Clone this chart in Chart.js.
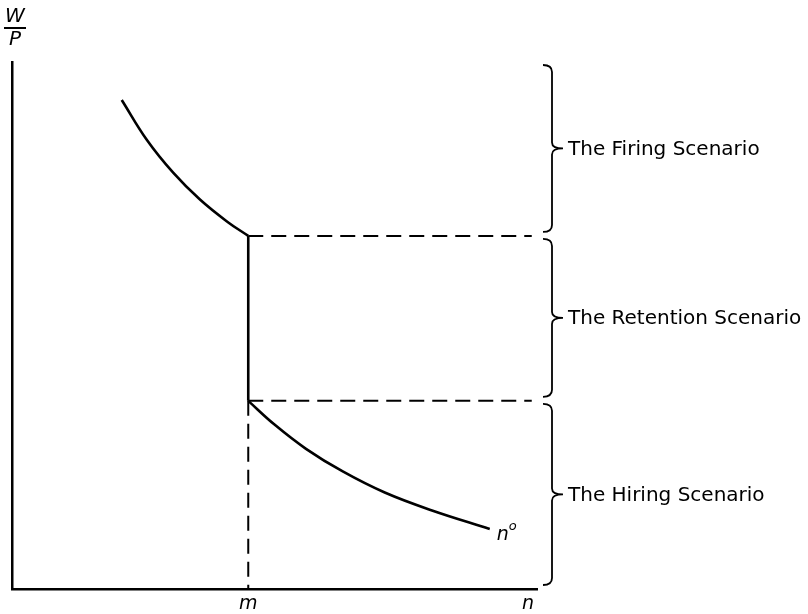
<!DOCTYPE html>
<html>
<head>
<meta charset="utf-8">
<script src="https://cdn.jsdelivr.net/npm/chart.js@4.4.1/dist/chart.umd.min.js"></script>
<style>
  html, body { margin: 0; padding: 0; background: #fff; }
</style>
</head>
<body>
<canvas id="chart" width="808" height="614"></canvas>
<script>
// upper branch of the curve (above the retention band)
const upperX = [20.9, 25.7, 30.7, 35.8, 41.0, 45];
const upperY = [92.8, 85.2, 79.0, 73.9, 69.7, 67.0];
// lower branch n0 (below the retention band)
const lowerX = [45, 50, 56, 63, 71, 80, 91];
const lowerY = [35.7, 31.2, 26.6, 22.3, 18.3, 14.9, 11.4];

const mValue = 45;
const dashEnd = 99;
const bandEdges = [100, 67.0, 35.7, 0];
const bandLabels = ['The Firing Scenario', 'The Retention Scenario', 'The Hiring Scenario'];
const xTicks = [45, 98.3];
const xTickLabels = ['m', 'n'];

const ink = '#000';
const toPoints = (xs, ys) => xs.map((x, i) => ({ x: x, y: ys[i] }));

// braces, scenario labels, n0 and W/P
const notes = {
  id: 'notes',
  afterDraw(chart) {
    const ctx = chart.ctx;
    const xs = chart.scales.x;
    const ys = chart.scales.y;
    const area = chart.chartArea;
    const hookX = area.right + 6;
    const barX = area.right + 15;
    const tipX = area.right + 26;

    ctx.save();
    ctx.strokeStyle = ink;
    ctx.fillStyle = ink;
    ctx.lineWidth = 1.8;
    for (let i = 0; i < bandLabels.length; i++) {
      const top = ys.getPixelForValue(bandEdges[i]) + 3;
      const bot = ys.getPixelForValue(bandEdges[i + 1]) - 4;
      const mid = (top + bot) / 2;
      ctx.beginPath();
      ctx.moveTo(hookX, top);
      ctx.quadraticCurveTo(barX, top, barX, top + 7);
      ctx.lineTo(barX, mid - 6);
      ctx.quadraticCurveTo(barX, mid, tipX, mid);
      ctx.quadraticCurveTo(barX, mid, barX, mid + 6);
      ctx.lineTo(barX, bot - 7);
      ctx.quadraticCurveTo(barX, bot, hookX, bot);
      ctx.stroke();

      ctx.font = '20px "DejaVu Sans"';
      ctx.textAlign = 'left';
      ctx.textBaseline = 'middle';
      ctx.fillText(bandLabels[i], tipX + 5, mid + 1);
    }

    // n0 label at the end of the lower curve
    const nx = xs.getPixelForValue(lowerX[lowerX.length - 1]) + 7;
    const ny = ys.getPixelForValue(lowerY[lowerY.length - 1]);
    ctx.font = 'italic 19px "DejaVu Sans"';
    ctx.textBaseline = 'middle';
    ctx.fillText('n', nx, ny + 6);
    ctx.font = 'italic 13px "DejaVu Sans"';
    ctx.fillText('o', nx + 12, ny - 2);

    // W/P on top of the vertical axis
    const ax = area.left + 3;
    ctx.font = 'italic 20px "DejaVu Sans"';
    ctx.textAlign = 'center';
    ctx.fillText('W', ax, 17);
    ctx.fillText('P', ax, 40);
    ctx.lineWidth = 2;
    ctx.beginPath();
    ctx.moveTo(ax - 11, 28);
    ctx.lineTo(ax + 11, 28);
    ctx.stroke();
    ctx.restore();
  }
};

const solid = { borderColor: ink, borderWidth: 2.6, pointRadius: 0, showLine: true, fill: false };
const dashed = { borderColor: ink, borderWidth: 2, pointRadius: 0, showLine: true, fill: false, borderDash: [15, 8] };

new Chart(document.getElementById('chart'), {
  type: 'scatter',
  data: {
    datasets: [
      Object.assign({ data: toPoints(upperX, upperY), tension: 0.4 }, solid),
      Object.assign({ data: [{ x: mValue, y: bandEdges[1] }, { x: mValue, y: bandEdges[2] }] }, solid),
      Object.assign({ data: toPoints(lowerX, lowerY), tension: 0.4 }, solid),
      Object.assign({ data: [{ x: mValue, y: bandEdges[2] }, { x: mValue, y: 0 }], borderDash: [17, 8] }, dashed),
      Object.assign({ data: [{ x: mValue, y: bandEdges[1] }, { x: dashEnd, y: bandEdges[1] }] }, dashed),
      Object.assign({ data: [{ x: mValue, y: bandEdges[2] }, { x: dashEnd, y: bandEdges[2] }] }, dashed)
    ]
  },
  options: {
    responsive: false,
    animation: false,
    layout: { padding: { left: 12, top: 62, right: 271, bottom: -6 } },
    plugins: { legend: { display: false }, tooltip: { enabled: false } },
    scales: {
      x: {
        type: 'linear',
        min: 0,
        max: 100,
        grid: { display: false, drawTicks: false },
        border: { display: true, color: ink, width: 2.5 },
        afterBuildTicks: (scale) => { scale.ticks = xTicks.map((v) => ({ value: v })); },
        ticks: {
          autoSkip: false,
          maxRotation: 0,
          padding: 6,
          color: ink,
          font: { family: 'DejaVu Sans', style: 'italic', size: 19, lineHeight: 1 },
          callback: (value) => xTickLabels[xTicks.indexOf(value)]
        }
      },
      y: {
        type: 'linear',
        min: 0,
        max: 100,
        grid: { display: false, drawTicks: false },
        border: { display: true, color: ink, width: 2.5 },
        ticks: { display: false }
      }
    }
  },
  plugins: [notes]
});
</script>
</body>
</html>
